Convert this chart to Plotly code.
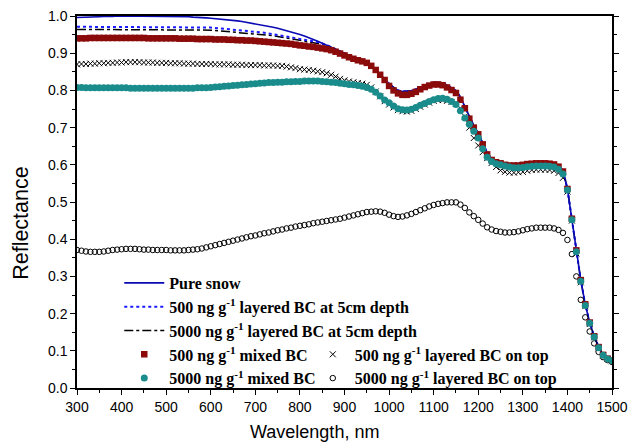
import plotly.graph_objects as go

# Wavelength grid (nm), 300..1500 every 10 nm
wavelength = list(range(300, 1501, 10))

pure_snow = [
    0.996, 0.996, 0.997, 0.997, 0.998, 0.998, 0.999, 0.998, 0.999, 1.000,
    1.000, 1.000, 0.999, 1.000, 1.000, 1.000, 0.999, 1.000, 1.000, 1.000,
    1.000, 0.999, 0.999, 0.999, 0.998, 0.998, 0.997, 0.997, 0.996, 0.995,
    0.994, 0.993, 0.992, 0.991, 0.990, 0.988, 0.987, 0.985, 0.983, 0.981,
    0.979, 0.977, 0.975, 0.973, 0.970, 0.967, 0.964, 0.961, 0.958, 0.955,
    0.950, 0.946, 0.942, 0.937, 0.932, 0.927, 0.922, 0.917, 0.911, 0.905,
    0.900, 0.894, 0.889, 0.884, 0.879, 0.874, 0.866, 0.856, 0.843, 0.830,
    0.818, 0.808, 0.800, 0.797, 0.797, 0.799, 0.803, 0.808, 0.813, 0.818,
    0.821, 0.821, 0.819, 0.814, 0.807, 0.799, 0.782, 0.757, 0.728, 0.705,
    0.685, 0.658, 0.632, 0.616, 0.609, 0.606, 0.604, 0.603, 0.603, 0.603,
    0.604, 0.605, 0.606, 0.607, 0.607, 0.607, 0.606, 0.604, 0.598, 0.585,
    0.535, 0.455, 0.370, 0.290, 0.225, 0.176, 0.139, 0.110, 0.089, 0.079,
    0.074,
]

layered_500_5cm = [
    0.971, 0.971, 0.971, 0.971, 0.971, 0.971, 0.971, 0.971, 0.971, 0.971,
    0.971, 0.971, 0.971, 0.971, 0.971, 0.971, 0.971, 0.970, 0.970, 0.970,
    0.970, 0.970, 0.970, 0.970, 0.970, 0.970, 0.970, 0.970, 0.970, 0.970,
    0.969, 0.968, 0.967, 0.966, 0.965, 0.964, 0.963, 0.962, 0.961, 0.960,
    0.958, 0.957, 0.955, 0.953, 0.951, 0.949, 0.947, 0.945, 0.943, 0.941,
    0.939, 0.937, 0.935, 0.933, 0.930, 0.926, 0.922, 0.917, 0.911, 0.905,
    0.900, 0.894, 0.889, 0.884, 0.879, 0.874, 0.866, 0.856, 0.843, 0.830,
    0.818, 0.808, 0.800, 0.797, 0.797, 0.799, 0.803, 0.808, 0.813, 0.818,
    0.821, 0.821, 0.819, 0.814, 0.807, 0.799, 0.782, 0.757, 0.728, 0.705,
    0.685, 0.658, 0.632, 0.616, 0.609, 0.606, 0.604, 0.603, 0.603, 0.603,
    0.604, 0.605, 0.606, 0.607, 0.607, 0.607, 0.606, 0.604, 0.598, 0.585,
    0.535, 0.455, 0.370, 0.290, 0.225, 0.176, 0.139, 0.110, 0.089, 0.079,
    0.074,
]

layered_5000_5cm = [
    0.964, 0.964, 0.964, 0.964, 0.964, 0.964, 0.964, 0.964, 0.964, 0.964,
    0.964, 0.964, 0.964, 0.964, 0.964, 0.964, 0.964, 0.963, 0.963, 0.963,
    0.963, 0.963, 0.963, 0.963, 0.963, 0.963, 0.963, 0.963, 0.963, 0.963,
    0.962, 0.961, 0.960, 0.959, 0.958, 0.957, 0.956, 0.955, 0.954, 0.953,
    0.952, 0.951, 0.950, 0.949, 0.947, 0.945, 0.943, 0.941, 0.939, 0.937,
    0.935, 0.933, 0.931, 0.929, 0.927, 0.924, 0.921, 0.917, 0.911, 0.905,
    0.900, 0.894, 0.889, 0.884, 0.879, 0.874, 0.866, 0.856, 0.843, 0.830,
    0.818, 0.808, 0.800, 0.797, 0.797, 0.799, 0.803, 0.808, 0.813, 0.818,
    0.821, 0.821, 0.819, 0.814, 0.807, 0.799, 0.782, 0.757, 0.728, 0.705,
    0.685, 0.658, 0.632, 0.616, 0.609, 0.606, 0.604, 0.603, 0.603, 0.603,
    0.604, 0.605, 0.606, 0.607, 0.607, 0.607, 0.606, 0.604, 0.598, 0.585,
    0.535, 0.455, 0.370, 0.290, 0.225, 0.176, 0.139, 0.110, 0.089, 0.079,
    0.074,
]

mixed_500 = [
    0.940, 0.940, 0.940, 0.941, 0.941, 0.941, 0.941, 0.941, 0.941, 0.941,
    0.941, 0.941, 0.941, 0.941, 0.941, 0.941, 0.940, 0.940, 0.940, 0.940,
    0.940, 0.940, 0.940, 0.939, 0.939, 0.939, 0.939, 0.938, 0.938, 0.938,
    0.938, 0.937, 0.937, 0.937, 0.936, 0.936, 0.935, 0.935, 0.934, 0.934,
    0.933, 0.932, 0.931, 0.930, 0.929, 0.928, 0.927, 0.926, 0.925, 0.923,
    0.921, 0.920, 0.918, 0.917, 0.915, 0.913, 0.911, 0.908, 0.904, 0.899,
    0.894, 0.889, 0.885, 0.881, 0.878, 0.874, 0.866, 0.855, 0.842, 0.828,
    0.812, 0.800, 0.792, 0.788, 0.788, 0.791, 0.796, 0.803, 0.809, 0.813,
    0.816, 0.816, 0.814, 0.808, 0.801, 0.793, 0.775, 0.752, 0.724, 0.700,
    0.682, 0.655, 0.628, 0.613, 0.607, 0.604, 0.600, 0.598, 0.598, 0.598,
    0.600, 0.602, 0.603, 0.604, 0.604, 0.604, 0.603, 0.601, 0.595, 0.582,
    0.535, 0.455, 0.370, 0.290, 0.225, 0.176, 0.139, 0.110, 0.089, 0.079,
    0.074,
]

mixed_5000 = [
    0.808, 0.808, 0.807, 0.807, 0.807, 0.807, 0.807, 0.807, 0.807, 0.807,
    0.807, 0.807, 0.806, 0.806, 0.806, 0.806, 0.806, 0.806, 0.806, 0.806,
    0.806, 0.806, 0.806, 0.806, 0.806, 0.806, 0.806, 0.807, 0.807, 0.807,
    0.808, 0.809, 0.810, 0.811, 0.812, 0.813, 0.814, 0.815, 0.816, 0.817,
    0.818, 0.819, 0.820, 0.821, 0.821, 0.822, 0.822, 0.823, 0.823, 0.824,
    0.824, 0.825, 0.825, 0.825, 0.825, 0.824, 0.823, 0.822, 0.821, 0.819,
    0.818, 0.816, 0.815, 0.813, 0.811, 0.808, 0.803, 0.795, 0.785, 0.774,
    0.767, 0.758, 0.751, 0.748, 0.747, 0.749, 0.754, 0.760, 0.765, 0.770,
    0.775, 0.778, 0.779, 0.776, 0.770, 0.762, 0.745, 0.726, 0.709, 0.690,
    0.672, 0.643, 0.620, 0.609, 0.603, 0.600, 0.597, 0.594, 0.592, 0.592,
    0.593, 0.595, 0.596, 0.597, 0.597, 0.597, 0.596, 0.594, 0.588, 0.575,
    0.532, 0.452, 0.366, 0.287, 0.222, 0.174, 0.137, 0.108, 0.088, 0.078,
    0.073,
]

top_500 = [
    0.870, 0.871, 0.871, 0.872, 0.872, 0.873, 0.873, 0.874, 0.874, 0.875,
    0.875, 0.876, 0.876, 0.876, 0.876, 0.875, 0.875, 0.875, 0.874, 0.874,
    0.874, 0.873, 0.873, 0.873, 0.872, 0.872, 0.872, 0.871, 0.871, 0.871,
    0.871, 0.870, 0.870, 0.870, 0.870, 0.869, 0.869, 0.869, 0.868, 0.868,
    0.868, 0.868, 0.867, 0.867, 0.867, 0.866, 0.866, 0.864, 0.862, 0.860,
    0.857, 0.856, 0.855, 0.853, 0.851, 0.849, 0.846, 0.842, 0.837, 0.831,
    0.827, 0.824, 0.822, 0.820, 0.818, 0.815, 0.808, 0.797, 0.784, 0.771,
    0.762, 0.754, 0.747, 0.744, 0.743, 0.745, 0.750, 0.756, 0.762, 0.767,
    0.772, 0.774, 0.774, 0.772, 0.769, 0.764, 0.752, 0.730, 0.700, 0.672,
    0.652, 0.634, 0.618, 0.605, 0.594, 0.585, 0.581, 0.579, 0.579, 0.580,
    0.581, 0.584, 0.586, 0.587, 0.587, 0.587, 0.586, 0.584, 0.578, 0.565,
    0.528, 0.450, 0.362, 0.284, 0.220, 0.172, 0.136, 0.107, 0.088, 0.078,
    0.072,
]

top_5000 = [
    0.371, 0.369, 0.367, 0.366, 0.366, 0.366, 0.367, 0.369, 0.371, 0.372,
    0.373, 0.374, 0.374, 0.374, 0.373, 0.372, 0.372, 0.371, 0.371, 0.371,
    0.371, 0.370, 0.370, 0.370, 0.370, 0.371, 0.372, 0.373, 0.375, 0.378,
    0.381, 0.384, 0.387, 0.390, 0.393, 0.396, 0.399, 0.402, 0.405, 0.408,
    0.410, 0.413, 0.416, 0.418, 0.421, 0.424, 0.426, 0.429, 0.431, 0.434,
    0.436, 0.438, 0.440, 0.443, 0.445, 0.447, 0.449, 0.451, 0.453, 0.455,
    0.458, 0.461, 0.464, 0.467, 0.470, 0.473, 0.474, 0.475, 0.474, 0.471,
    0.466, 0.462, 0.460, 0.461, 0.464, 0.468, 0.473, 0.478, 0.483, 0.488,
    0.492, 0.495, 0.497, 0.499, 0.499, 0.499, 0.493, 0.484, 0.472, 0.462,
    0.452, 0.442, 0.432, 0.426, 0.422, 0.420, 0.418, 0.418, 0.419, 0.421,
    0.424, 0.427, 0.429, 0.431, 0.431, 0.431, 0.431, 0.429, 0.425, 0.417,
    0.398, 0.360, 0.300, 0.237, 0.190, 0.152, 0.120, 0.097, 0.083, 0.075,
    0.070,
]

x_ticks = [300, 400, 500, 600, 700, 800, 900, 1000, 1100, 1200, 1300, 1400, 1500]
y_ticks = [0.0, 0.1, 0.2, 0.3, 0.4, 0.5, 0.6, 0.7, 0.8, 0.9, 1.0]
x_title = "Wavelength, nm"
y_title = "Reflectance"

SERIF = "Liberation Serif, Times New Roman, serif"
SANS = "Liberation Sans, Arial, sans-serif"

fig = go.Figure()

fig.add_trace(go.Scatter(
    x=wavelength, y=layered_5000_5cm, mode="lines",
    name="5000 ng g<sup>-1</sup> layered BC at 5cm depth",
    line=dict(color="black", width=1.5, dash="dashdot"),
    legend="legend", legendrank=3))
fig.add_trace(go.Scatter(
    x=wavelength, y=layered_500_5cm, mode="lines",
    name="500 ng g<sup>-1</sup> layered BC at 5cm depth",
    line=dict(color="#1a1aff", width=2, dash="dot"),
    legend="legend", legendrank=2))
fig.add_trace(go.Scatter(
    x=wavelength, y=pure_snow, mode="lines", name="Pure snow",
    line=dict(color="#0a0ab4", width=1.6),
    legend="legend", legendrank=1))
fig.add_trace(go.Scatter(
    x=wavelength, y=top_5000, mode="markers",
    name="5000 ng g<sup>-1</sup> layered BC on top",
    marker=dict(symbol="circle-open", size=5.5, color="black", line=dict(width=1)),
    legend="legend2", legendrank=2))
fig.add_trace(go.Scatter(
    x=wavelength, y=top_500, mode="markers",
    name="500 ng g<sup>-1</sup> layered BC on top",
    marker=dict(symbol="x-thin-open", size=6, color="black", line=dict(width=1, color="black")),
    legend="legend2", legendrank=1))
fig.add_trace(go.Scatter(
    x=wavelength, y=mixed_500, mode="markers",
    name="500 ng g<sup>-1</sup> mixed BC",
    marker=dict(symbol="square", size=6.5, color="#8b0a0a"),
    legend="legend", legendrank=4))
fig.add_trace(go.Scatter(
    x=wavelength, y=mixed_5000, mode="markers",
    name="5000 ng g<sup>-1</sup> mixed BC",
    marker=dict(symbol="circle", size=7, color="#1a8c8c"),
    legend="legend", legendrank=5))

legend_font = dict(family=SERIF, size=16, color="black", weight="bold")

fig.update_layout(
    width=632, height=445,
    margin=dict(l=77, r=20, t=16, b=57),
    paper_bgcolor="white", plot_bgcolor="white",
    showlegend=True,
    legend=dict(x=0.079, y=0.328, xanchor="left", yanchor="top",
                bgcolor="rgba(0,0,0,0)", font=legend_font,
                itemwidth=40, tracegroupgap=0),
    legend2=dict(x=0.437, y=0.136, xanchor="left", yanchor="top",
                 bgcolor="rgba(0,0,0,0)", font=legend_font,
                 itemwidth=34, tracegroupgap=0),
    xaxis=dict(
        range=[300, 1500], tickvals=x_ticks, ticktext=[str(v) for v in x_ticks],
        showgrid=False, zeroline=False, automargin=False,
        showline=True, linecolor="black", linewidth=1.5, mirror=True,
        ticks="outside", ticklen=5, tickwidth=1, tickcolor="black",
        minor=dict(dtick=50, ticks="outside", ticklen=3, tickcolor="black", showgrid=False),
        tickfont=dict(family=SANS, size=14, color="black"),
    ),
    yaxis=dict(
        range=[0, 1.0], tickvals=y_ticks, ticktext=[f"{v:.1f}" for v in y_ticks],
        showgrid=False, zeroline=False, automargin=False,
        showline=True, linecolor="black", linewidth=1.5, mirror="ticks",
        ticks="outside", ticklen=5, tickwidth=1, tickcolor="black",
        minor=dict(dtick=0.05, ticks="outside", ticklen=3, tickcolor="black", showgrid=False),
        tickfont=dict(family=SANS, size=14, color="black"),
    ),
    annotations=[
        dict(text=x_title, xref="paper", yref="paper", x=0.443, y=-0.118,
             xanchor="center", yanchor="middle", showarrow=False,
             font=dict(family=SANS, size=18, color="black")),
        dict(text=y_title, xref="paper", yref="paper", x=-0.104, y=0.445,
             xanchor="center", yanchor="middle", showarrow=False, textangle=-90,
             font=dict(family=SANS, size=21.5, color="black")),
    ],
)

fig.write_html("out.html")
